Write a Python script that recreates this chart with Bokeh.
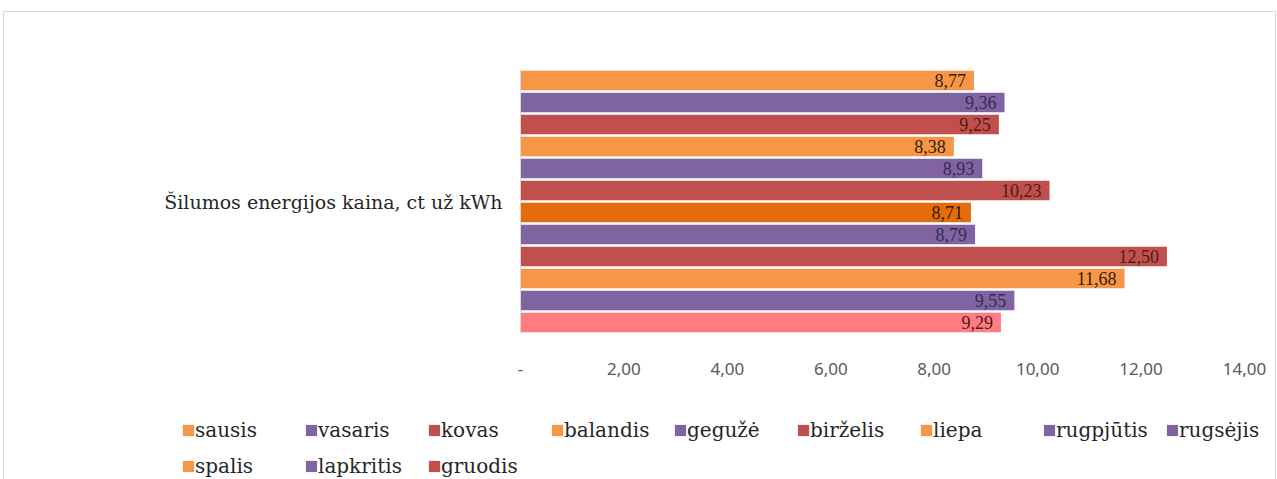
from bokeh.plotting import figure
from bokeh.layouts import column
from bokeh.models import Range1d, FixedTicker, ColumnDataSource, Legend, LegendItem
from bokeh.core.properties import value
from bokeh.embed import file_html
from bokeh.resources import INLINE

category = "Šilumos energijos kaina, ct už kWh"
months = ["sausis", "vasaris", "kovas", "balandis", "gegužė", "birželis",
          "liepa", "rugpjūtis", "rugsėjis", "spalis", "lapkritis", "gruodis"]
prices = [8.77, 9.36, 9.25, 8.38, 8.93, 10.23, 8.71, 8.79, 12.50, 11.68, 9.55, 9.29]
bar_colors = ["#F79646", "#8064A2", "#C0504D", "#F79646", "#8064A2", "#C0504D",
              "#E46C0A", "#8064A2", "#C0504D", "#F79646", "#8064A2", "#FF7C80"]
label_colors = ["#33220f", "#342c4f", "#501b19", "#33220f", "#342c4f", "#501b19",
                "#301a04", "#342c4f", "#501b19", "#33220f", "#342c4f", "#501b19"]
legend_colors = ["#F79646", "#8064A2", "#C0504D", "#F79646", "#8064A2", "#C0504D",
                 "#F79646", "#8064A2", "#8064A2", "#F79646", "#8064A2", "#C0504D"]
x_ticks = [0, 2, 4, 6, 8, 10, 12, 14]
x_tick_labels = ["-", "2,00", "4,00", "6,00", "8,00", "10,00", "12,00", "14,00"]

pos = [i + 0.5 for i in range(len(months))]
labels = [f"{v:.2f}".replace(".", ",") for v in prices]
src = ColumnDataSource(dict(month=months, price=prices, pos=pos, color=bar_colors,
                            lcolor=label_colors, label=labels))

# ---- main chart ----
p = figure(width=1271, height=381, x_range=Range1d(0, 14), y_range=Range1d(12, 0),
           output_backend="svg", toolbar_location=None,
           min_border_left=516, min_border_right=31, min_border_top=57, min_border_bottom=60)
p.outline_line_color = None
p.background_fill_color = "white"
p.border_fill_color = "white"
p.xgrid.grid_line_color = None
p.ygrid.grid_line_color = None

p.hbar(y="pos", left=0, right="price", height=0.88, fill_color="color",
       line_color=None, source=src)
p.text(x="price", y="pos", text="label", text_color="lcolor", text_align="right",
       text_baseline="middle", x_offset=-8, text_font=value("Liberation Serif"),
       text_font_size="18px", source=src)

xa = p.xaxis[0]
xa.ticker = FixedTicker(ticks=x_ticks)
xa.major_label_overrides = dict(zip(x_ticks, x_tick_labels))
xa.axis_line_color = None
xa.major_tick_line_color = None
xa.minor_tick_line_color = None
xa.major_tick_out = 0
xa.major_tick_in = 0
xa.major_label_standoff = 29
xa.major_label_text_font = "Noto Sans"
xa.major_label_text_font_size = "17px"
xa.major_label_text_color = "#595959"

ya = p.yaxis[0]
ya.ticker = FixedTicker(ticks=[6])
ya.major_label_overrides = {6: category}
ya.axis_line_color = "#d9d9d9"
ya.major_tick_line_color = None
ya.minor_tick_line_color = None
ya.major_tick_out = 0
ya.major_tick_in = 0
ya.major_label_standoff = 18
ya.major_label_text_font = "DejaVu Serif"
ya.major_label_text_font_size = "19px"
ya.major_label_text_color = "#262626"

# ---- legend strip ----
pl = figure(width=1271, height=86, x_range=Range1d(0, 1), y_range=Range1d(0, 1),
            output_backend="svg", toolbar_location=None,
            min_border_left=0, min_border_right=0, min_border_top=0, min_border_bottom=0)
pl.axis.visible = False
pl.grid.visible = False
pl.outline_line_color = None
pl.background_fill_color = "white"
pl.border_fill_color = "white"
for f in (p, pl):
    if "frame_align" in f.properties():
        f.frame_align = False

# legend swatch proxy: zero-length bars carrying the legend colours
lsrc = ColumnDataSource(dict(idx=list(range(len(months))), zero=[0] * len(months),
                             color=legend_colors, month=months))
proxy = pl.hbar(y="idx", left="zero", right="zero", height=0.5, fill_color="color",
                line_color=None, source=lsrc)
items = [LegendItem(label=m, renderers=[proxy], index=i) for i, m in enumerate(months)]

legend = Legend(items=items, location=(177, -5), ncols=9, orientation="horizontal",
                glyph_width=14, glyph_height=14, label_standoff=0, label_width=109,
                label_height=36, spacing=0, padding=0, margin=0,
                border_line_color=None, background_fill_alpha=0,
                label_text_font="DejaVu Serif", label_text_font_size="20px",
                label_text_color="#262626")
pl.add_layout(legend)

lay = column(p, pl, spacing=0)
lay.styles = {"margin-left": "3px", "margin-top": "11px",
              "border-top": "1px solid #d9d9d9", "border-left": "1px solid #d9d9d9",
              "border-right": "1px solid #d9d9d9"}

open("out.html", "w").write(file_html(lay, INLINE))
